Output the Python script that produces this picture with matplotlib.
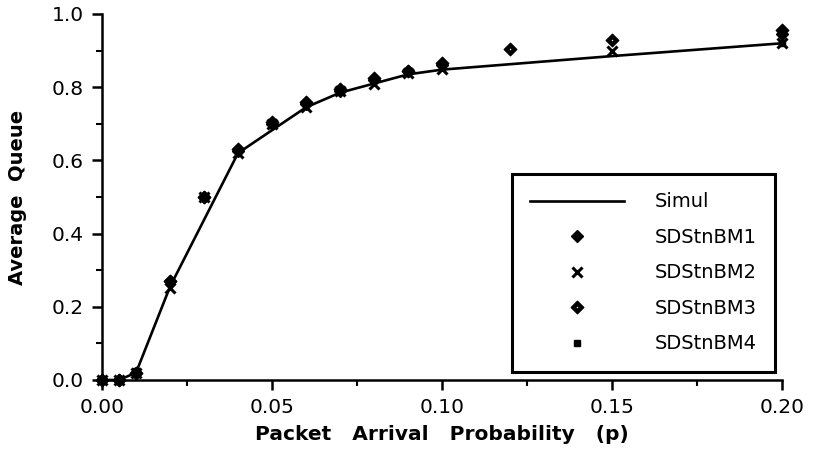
import matplotlib
matplotlib.use("Agg")
import matplotlib.pyplot as plt
from matplotlib.path import Path
from matplotlib.ticker import MultipleLocator, FormatStrFormatter

# data
p_simul = [0, 0.005, 0.01, 0.02, 0.04, 0.06, 0.07, 0.08, 0.09, 0.10, 0.15, 0.20]
q_simul = [0, 0, 0.02, 0.255, 0.62, 0.745, 0.785, 0.81, 0.835, 0.848, 0.885, 0.92]

p_bm = [0, 0.005, 0.01, 0.02, 0.03, 0.04, 0.05, 0.06, 0.07, 0.08, 0.09, 0.10]
q_bm1 = [0, 0, 0.02, 0.27, 0.50, 0.625, 0.70, 0.755, 0.79, 0.82, 0.845, 0.86]
q_bm2 = [0, 0, 0.02, 0.25, 0.50, 0.62, 0.70, 0.745, 0.79, 0.81, 0.84, 0.85]
q_bm3 = [0, 0, 0.02, 0.27, 0.50, 0.63, 0.705, 0.76, 0.795, 0.825, 0.845, 0.865]
q_bm4 = [0, 0, 0.025, 0.265, 0.50, 0.625, 0.705, 0.755, 0.79, 0.82, 0.845, 0.855]

p_bm1_hi = [0.20]
q_bm1_hi = [0.945]
p_bm2_hi = [0.15, 0.20]
q_bm2_hi = [0.90, 0.92]
p_bm3_hi = [0.12, 0.15, 0.20]
q_bm3_hi = [0.905, 0.93, 0.955]
p_bm4_hi = [0.20]
q_bm4_hi = [0.92]

# diamond with a small hole in the middle
outer = Path([(0, 1), (1, 0), (0, -1), (-1, 0), (0, 1)],
             [Path.MOVETO, Path.LINETO, Path.LINETO, Path.LINETO, Path.CLOSEPOLY])
inner = Path([(0, 0.3), (-0.3, 0), (0, -0.3), (0.3, 0), (0, 0.3)],
             [Path.MOVETO, Path.LINETO, Path.LINETO, Path.LINETO, Path.CLOSEPOLY])
holed_diamond = Path.make_compound_path(outer, inner)

fig = plt.figure(figsize=(8.15, 4.62), dpi=100)
ax = fig.add_axes([0.1252, 0.1775, 0.8343, 0.7922])

ax.plot(p_simul, q_simul, color='k', lw=1.9, label='Simul', zorder=2, clip_on=False)
ax.plot(p_bm + p_bm1_hi, q_bm1 + q_bm1_hi, ls='none', marker='D', ms=6.5, color='k',
        label='SDStnBM1', clip_on=False, zorder=3)
ax.plot(p_bm + p_bm2_hi, q_bm2 + q_bm2_hi, ls='none', marker='x', ms=7, mew=2.2, color='k',
        label='SDStnBM2', clip_on=False, zorder=3)
ax.plot(p_bm + p_bm3_hi, q_bm3 + q_bm3_hi, ls='none', marker=holed_diamond, ms=9, color='k',
        label='SDStnBM3', clip_on=False, zorder=3)
ax.plot(p_bm + p_bm4_hi, q_bm4 + q_bm4_hi, ls='none', marker='s', ms=5, color='k',
        label='SDStnBM4', clip_on=False, zorder=3)

ax.set_xlim(0, 0.2)
ax.set_ylim(0, 1.0)
ax.xaxis.set_major_locator(MultipleLocator(0.05))
ax.xaxis.set_minor_locator(MultipleLocator(0.025))
ax.yaxis.set_major_locator(MultipleLocator(0.2))
ax.yaxis.set_minor_locator(MultipleLocator(0.1))
ax.xaxis.set_major_formatter(FormatStrFormatter('%.2f'))
ax.yaxis.set_major_formatter(FormatStrFormatter('%.1f'))

for s in ['top', 'right']:
    ax.spines[s].set_visible(False)
for s in ['left', 'bottom']:
    ax.spines[s].set_linewidth(1.8)

ax.tick_params(which='major', direction='out', length=7, width=1.8, labelsize=14.5, pad=6)
ax.tick_params(which='minor', direction='out', length=4, width=1.5)

ax.set_xlabel('Packet   Arrival   Probability   (p)', fontsize=14.5, fontweight='bold', labelpad=6)
ax.set_ylabel('Average  Queue', fontsize=14, fontweight='bold', labelpad=18)

leg = ax.legend(loc='lower right', bbox_to_anchor=(0.99, 0.022), fontsize=14,
                frameon=True, fancybox=False, framealpha=1, edgecolor='k',
                handlelength=4.8, handletextpad=1.6, labelspacing=0.85,
                borderpad=0.95, borderaxespad=0)
leg.get_frame().set_linewidth(2.2)

fig.savefig('out.png', dpi=100)
